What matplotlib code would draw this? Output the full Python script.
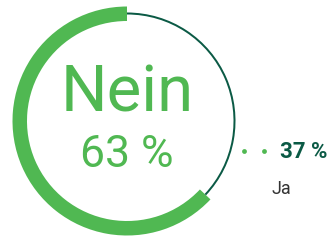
import matplotlib
matplotlib.use('Agg')
import matplotlib.pyplot as plt

plt.rcParams['font.family'] = ['Roboto', 'DejaVu Sans']

labels = ['Nein', 'Ja']
values = [63, 37]
pct_labels = ['63 %', '37 %']

green = '#50b852'
dark = '#0b5a45'

W, H = 334, 241
fig = plt.figure(figsize=(W / 100, H / 100), dpi=100)
ax = fig.add_axes([0, 0, 1, 1])

cx, cy = 127, 120
# thick ring for "Nein"
ax.pie(values, startangle=90, counterclock=True, center=(cx, cy), radius=114.5,
       colors=[green, 'none'], wedgeprops=dict(width=14.5, linewidth=0), frame=True)
# thin ring for "Ja"
ax.pie(values, startangle=90, counterclock=True, center=(cx, cy), radius=108.5,
       colors=['none', dark], wedgeprops=dict(width=2.0, linewidth=0), frame=True)
ax.set_xlim(0, W)
ax.set_ylim(0, H)
ax.set_aspect('equal')
ax.axis('off')

ax.text(cx, H - 94, labels[0], ha='center', va='center', fontsize=47, color=green)
ax.text(cx, H - 155, pct_labels[0], ha='center', va='center', fontsize=32, color=green)

ax.scatter([244, 264], [H - 151, H - 151], s=12, color=green, linewidths=0)
ax.text(280, H - 152, pct_labels[1], ha='left', va='center', fontsize=16,
        fontweight='bold', color=dark)
ax.text(271, H - 189, labels[1], ha='left', va='center', fontsize=13, color='#333333')

fig.savefig('out.png', dpi=100, facecolor='white')
